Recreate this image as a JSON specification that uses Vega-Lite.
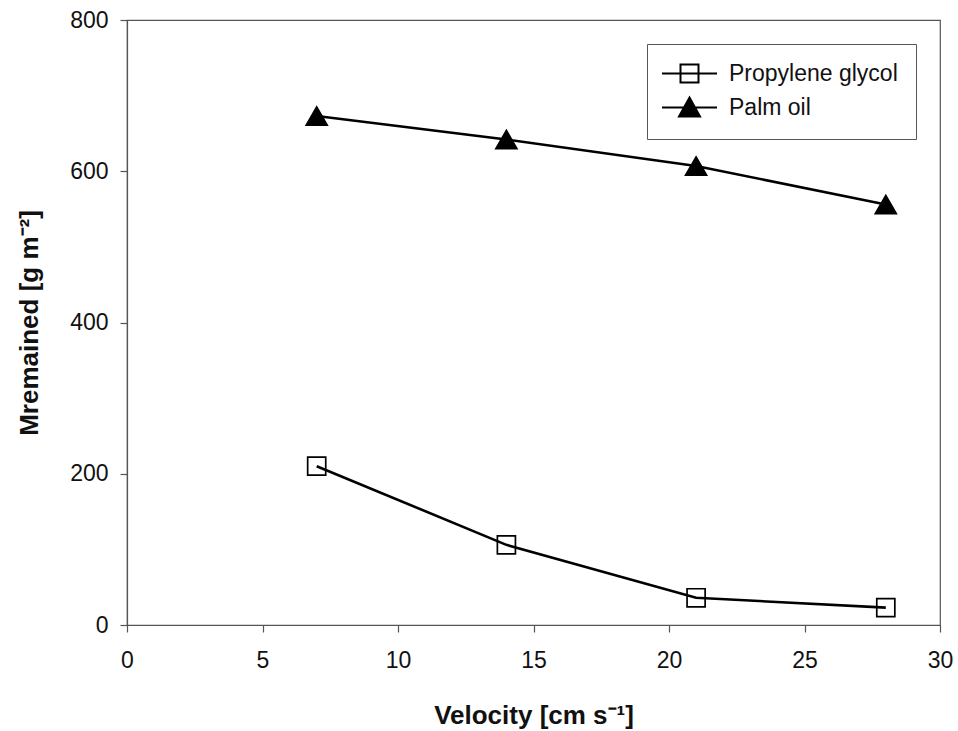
{
  "$schema": "https://vega.github.io/schema/vega-lite/v6.json",
  "width": 813,
  "height": 605,
  "autosize": {"type": "none"},
  "padding": {"left": 127, "top": 20, "right": 18, "bottom": 106},
  "background": "white",
  "config": {
    "font": "Liberation Sans",
    "view": {"stroke": "#555", "strokeWidth": 1.2},
    "legend": {
      "orient": "none",
      "legendX": 520,
      "legendY": 24,
      "strokeColor": "#555",
      "padding": 18,
      "symbolSize": 400,
      "symbolOffset": 13,
      "symbolStrokeWidth": 2,
      "labelFontSize": 23,
      "labelColor": "#111",
      "labelOffset": 28,
      "labelLimit": 400,
      "rowPadding": 6
    }
  },
  "data": {
    "values": [
      {"series": "Propylene glycol", "velocity": 7, "m": 210},
      {"series": "Propylene glycol", "velocity": 14, "m": 106},
      {"series": "Propylene glycol", "velocity": 21, "m": 36},
      {"series": "Propylene glycol", "velocity": 28, "m": 23},
      {"series": "Palm oil", "velocity": 7, "m": 673},
      {"series": "Palm oil", "velocity": 14, "m": 642},
      {"series": "Palm oil", "velocity": 21, "m": 607},
      {"series": "Palm oil", "velocity": 28, "m": 556}
    ]
  },
  "encoding": {
    "x": {
      "field": "velocity", "type": "quantitative",
      "scale": {"domain": [0, 30], "nice": false, "zero": false},
      "axis": {
        "values": [0, 5, 10, 15, 20, 25, 30],
        "grid": false,
        "title": "Velocity [cm s⁻¹]",
        "titleFontSize": 26, "titleFontWeight": "bold", "titleColor": "#111",
        "titlePadding": 30,
        "labelFontSize": 23, "labelColor": "#111", "labelPadding": 17,
        "tickSize": 7, "tickColor": "#555", "domainColor": "#555",
        "tickWidth": 1.2, "domainWidth": 1.2, "labelFlush": false
      }
    },
    "y": {
      "field": "m", "type": "quantitative",
      "scale": {"domain": [0, 800], "nice": false},
      "axis": {
        "values": [0, 200, 400, 600, 800],
        "grid": false,
        "title": "Mremained [g m⁻²]",
        "titleFontSize": 26, "titleFontWeight": "bold", "titleColor": "#111",
        "titlePadding": 27,
        "labelFontSize": 23, "labelColor": "#111", "labelPadding": 12,
        "tickSize": 7, "tickColor": "#555", "domainColor": "#555",
        "tickWidth": 1.2, "domainWidth": 1.2, "labelFlush": false
      }
    }
  },
  "layer": [
    {
      "mark": {"type": "line", "color": "black", "strokeWidth": 2.6},
      "encoding": {"detail": {"field": "series"}}
    },
    {
      "mark": {"type": "point", "filled": true, "size": 441, "stroke": "black", "strokeWidth": 1.7, "opacity": 1},
      "encoding": {
        "shape": {
          "field": "series", "type": "nominal",
          "scale": {"domain": ["Propylene glycol", "Palm oil"], "range": ["M-0.86,-0.86H0.86V0.86H-0.86Z", "triangle-up"]},
          "legend": null
        },
        "fill": {
          "field": "series", "type": "nominal",
          "scale": {"domain": ["Propylene glycol", "Palm oil"], "range": ["transparent", "black"]},
          "legend": null
        }
      }
    },
    {
      "transform": [{"filter": "datum.m < 0"}],
      "mark": {"type": "point", "filled": true, "strokeWidth": 2, "opacity": 1},
      "encoding": {
        "shape": {
          "field": "series", "type": "nominal",
          "scale": {"domain": ["Propylene glycol", "Palm oil"], "range": ["M-2.75,0H2.75M-0.9,-0.9H0.9V0.9H-0.9Z", "M-2.75,0H2.75M0,-1L1.05,0.9L-1.05,0.9Z"]},
          "legend": {"title": null}
        },
        "fill": {
          "field": "series", "type": "nominal",
          "scale": {"domain": ["Propylene glycol", "Palm oil"], "range": ["transparent", "black"]},
          "legend": {"title": null}
        },
        "stroke": {
          "field": "series", "type": "nominal",
          "scale": {"domain": ["Propylene glycol", "Palm oil"], "range": ["black", "black"]},
          "legend": {"title": null}
        }
      }
    }
  ],
  "resolve": {"scale": {"shape": "independent", "fill": "independent", "stroke": "independent"}}
}
